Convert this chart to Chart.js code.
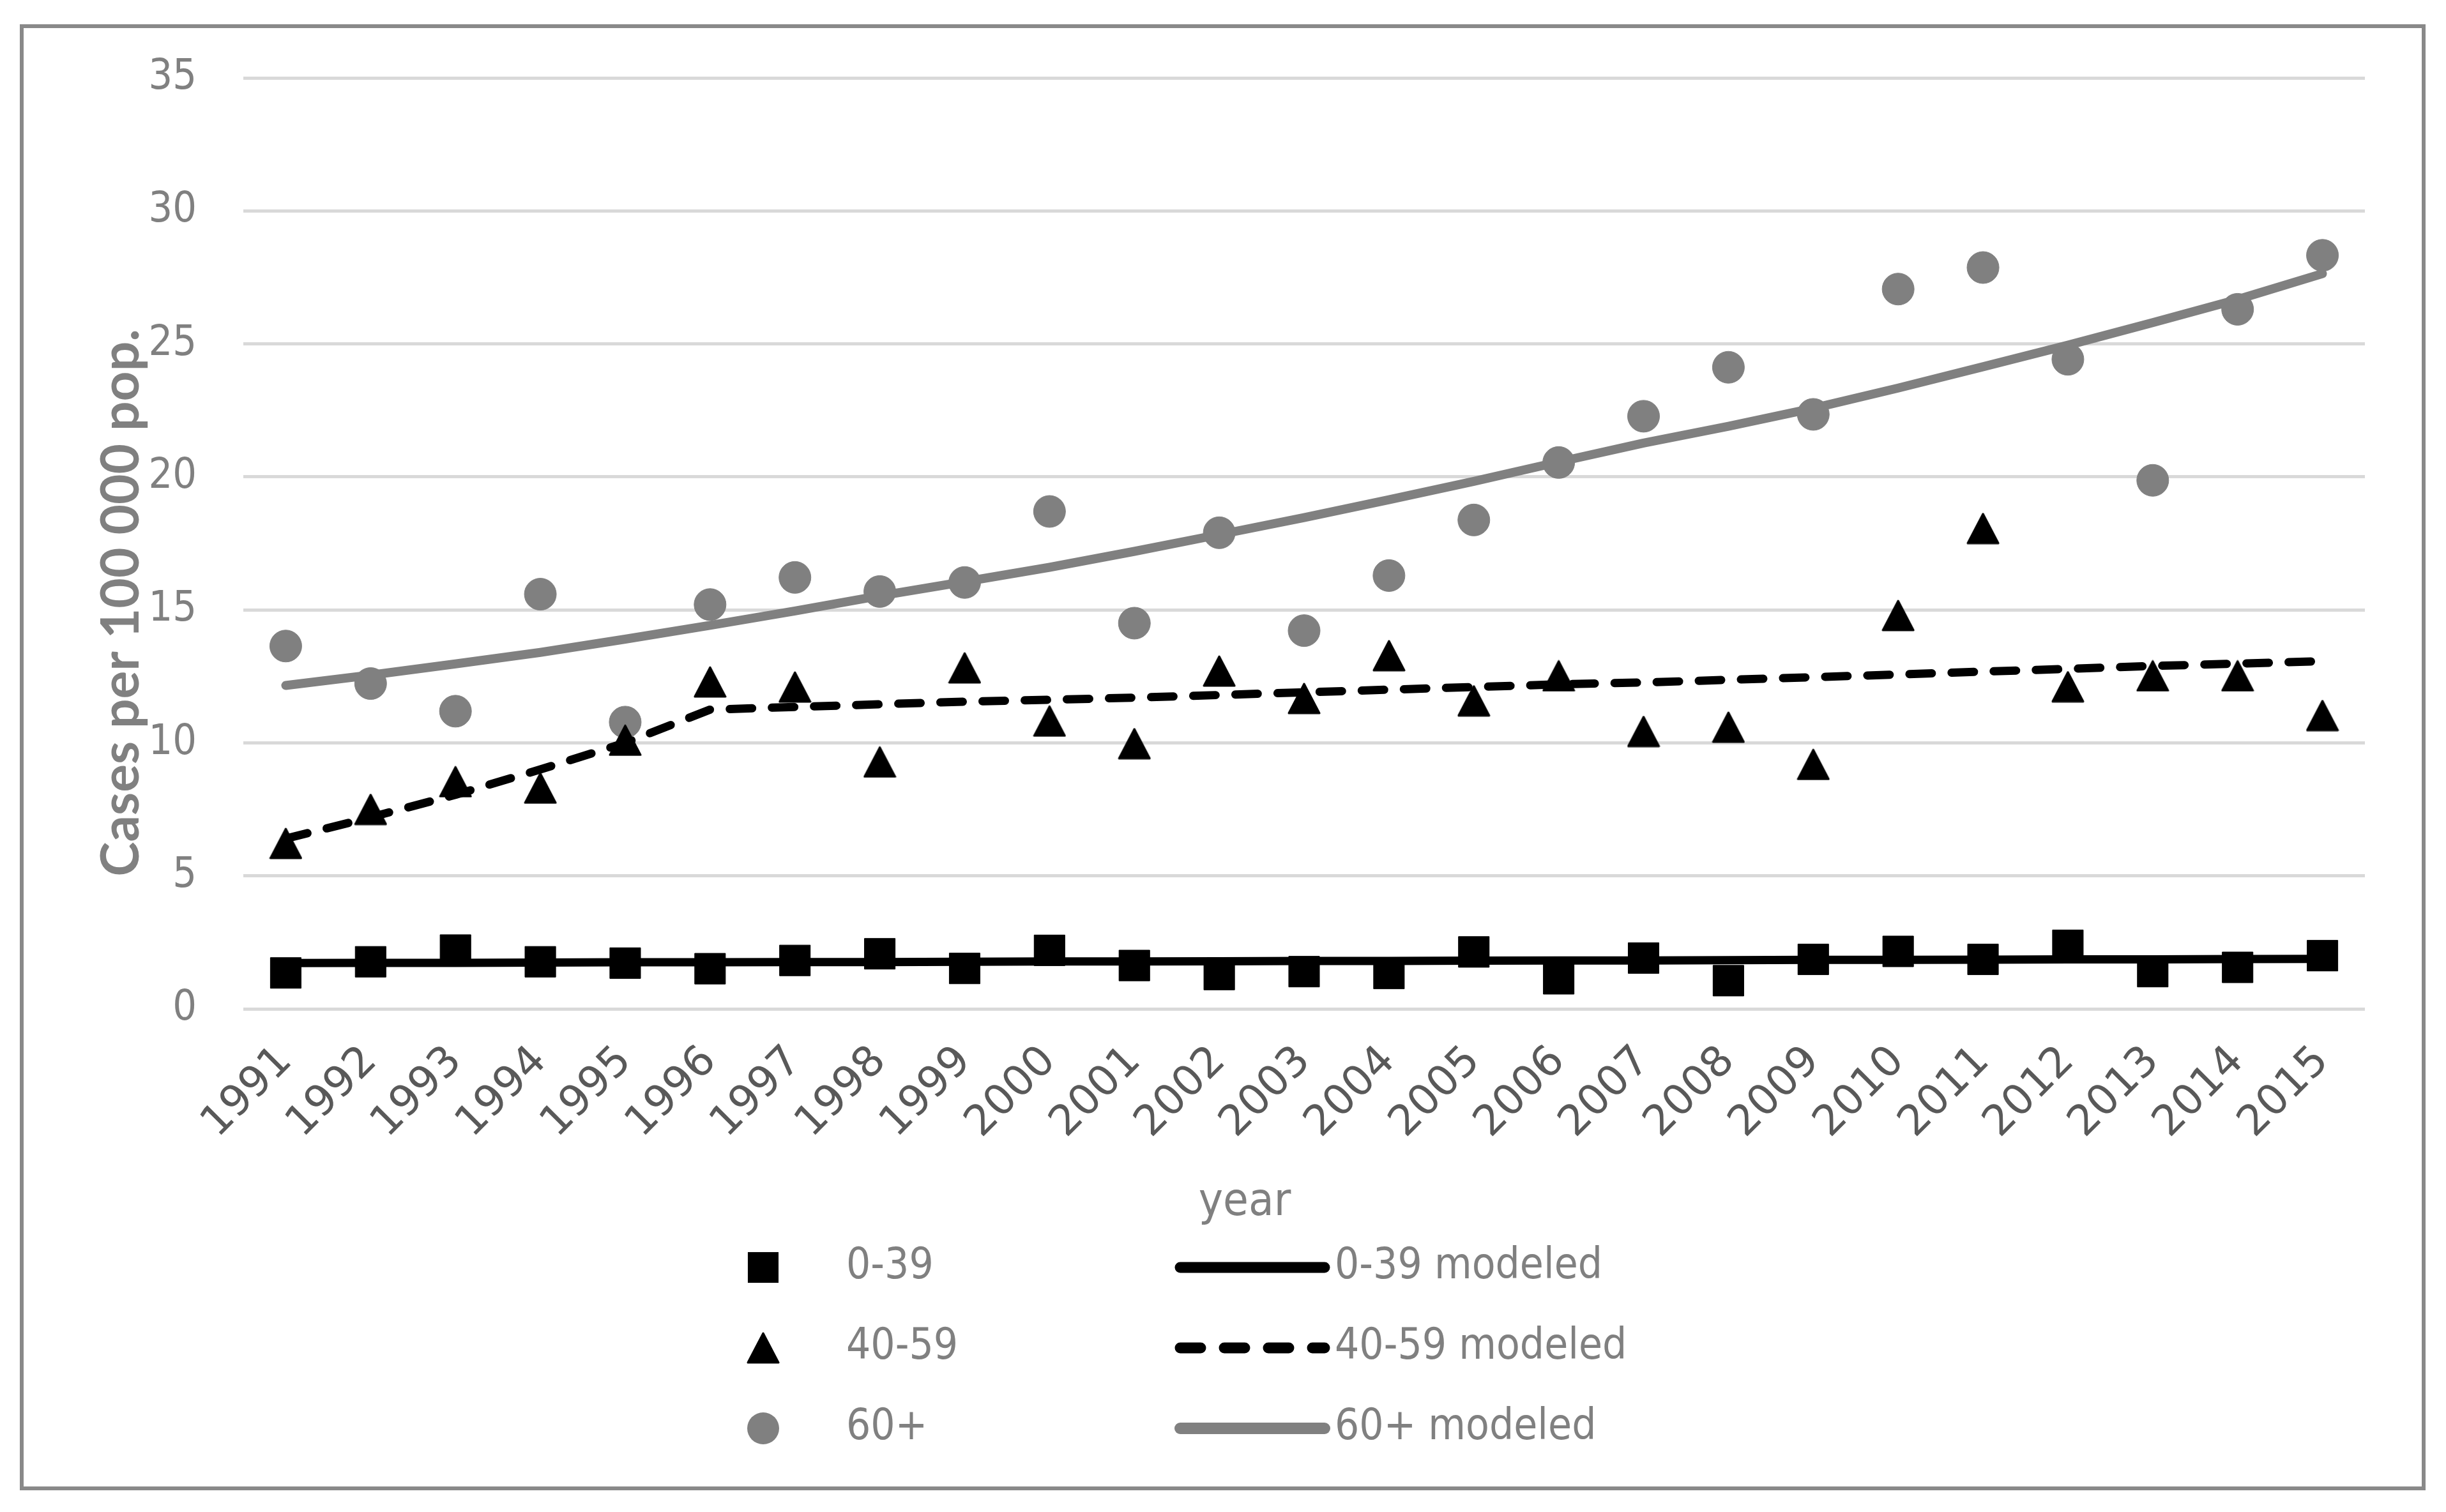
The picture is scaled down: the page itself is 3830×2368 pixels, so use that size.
<!DOCTYPE html>
<html>
<head>
<meta charset="utf-8">
<title>Cases per 100 000 pop. by age group</title>
<script src="https://cdn.jsdelivr.net/npm/chart.js@4.4.1/dist/chart.umd.min.js"></script>
<style>
    html, body { margin: 0; padding: 0; background: #ffffff; }
    #wrap { position: relative; width: 3830px; height: 2368px; overflow: hidden; }
    #wrap canvas { position: absolute; left: 0; top: 0; }
    #frame {
        position: absolute;
        left: 31px; top: 38px;
        width: 3767px; height: 2296px;
        border: 6px solid #898989;
        box-sizing: border-box;
        pointer-events: none;
    }
</style>
</head>
<body>
<div id="wrap">
    <canvas id="chart" width="3830" height="2368"></canvas>
    <div id="frame"></div>
</div>
<script>
// observed rates (cases per 100 000 pop.)
const years = ['1991', '1992', '1993', '1994', '1995', '1996', '1997', '1998', '1999', '2000',
    '2001', '2002', '2003', '2004', '2005', '2006', '2007', '2008', '2009', '2010',
    '2011', '2012', '2013', '2014', '2015'];

const cases0to39 = [1.35, 1.77, 2.21, 1.77, 1.72, 1.51, 1.82, 2.07, 1.52, 2.20,
    1.63, 1.29, 1.40, 1.33, 2.14, 1.13, 1.91, 1.06, 1.86, 2.16,
    1.86, 2.39, 1.40, 1.56, 2.00];

const cases40to59 = [6.22, 7.50, 8.54, 8.30, 10.10, 12.29, 12.10, 9.28, 12.82, 10.82,
    9.97, 12.70, 11.67, 13.28, 11.58, 12.52, 10.43, 10.59, 9.19, 14.79,
    18.06, 12.11, 12.52, 12.52, 11.03];

const cases60plus = [13.64, 12.23, 11.19, 15.59, 10.78, 15.20, 16.22, 15.69, 16.03, 18.70,
    14.50, 17.90, 14.22, 16.29, 18.38, 20.54, 22.28, 24.12, 22.35, 27.06,
    27.87, 24.42, 19.87, 26.30, 28.33];

// modeled curves
const model0to39 = [1.72, 1.73, 1.73, 1.74, 1.75, 1.75, 1.76, 1.76, 1.77, 1.78,
    1.78, 1.79, 1.80, 1.80, 1.81, 1.82, 1.82, 1.83, 1.84, 1.84,
    1.85, 1.86, 1.86, 1.87, 1.88];

const model40to59 = [6.40, 7.20, 8.05, 9.00, 10.00, 11.25, 11.35, 11.45, 11.55, 11.62,
    11.70, 11.80, 11.90, 12.00, 12.10, 12.20, 12.27, 12.37, 12.47, 12.57,
    12.68, 12.78, 12.89, 12.98, 13.07];

const model60plus = [12.16, 12.55, 12.97, 13.40, 13.90, 14.42, 14.96, 15.53, 16.06, 16.60,
    17.20, 17.83, 18.47, 19.14, 19.83, 20.56, 21.27, 21.90, 22.58, 23.34,
    24.14, 24.95, 25.80, 26.67, 27.64];

const yTicks = [0, 5, 10, 15, 20, 25, 30, 35];

const yTitle = 'Cases per 100 000 pop.';
const xTitle = 'year';

const GREY = '#808080';

// Chart.js puts the triangle centroid on the value, Excel centres the box - draw our own
function makeTriangle() {
    const c = document.createElement('canvas');
    c.width = 52;
    c.height = 50;
    const g = c.getContext('2d');
    g.fillStyle = '#000';
    g.strokeStyle = '#000';
    g.lineWidth = 3;
    g.lineJoin = 'round';
    g.beginPath();
    g.moveTo(26, 2);
    g.lineTo(50, 48);
    g.lineTo(2, 48);
    g.closePath();
    g.fill();
    g.stroke();
    return c;
}
const triangleMarker = makeTriangle();

// axis titles sit where Excel put them, not centred on the plot
const axisTitles = {
    id: 'axisTitles',
    afterDraw(chart) {
        const { ctx, chartArea } = chart;
        ctx.save();
        ctx.fillStyle = GREY;
        ctx.textAlign = 'center';
        ctx.textBaseline = 'alphabetic';

        ctx.save();
        ctx.font = 'bold 82px Lato, "Open Sans", sans-serif';
        ctx.translate(chartArea.left - 164, chartArea.top + 822);
        ctx.rotate(-Math.PI / 2);
        ctx.fillText(yTitle, 0, 0);
        ctx.restore();

        ctx.font = '72px "DejaVu Sans Condensed", "DejaVu Sans", sans-serif';
        ctx.fillText(xTitle, chartArea.left + 1568, chartArea.bottom + 323);
        ctx.restore();
    }
};

// two-column legend: markers on the left, modeled lines on the right
const gridLegend = {
    id: 'gridLegend',
    afterDraw(chart) {
        const ctx = chart.ctx;
        const sets = chart.data.datasets;
        const rowsY = [1985, 2111, 2237];
        const markerX = 1195, markerText = 1325;
        const lineFrom = 1848, lineTo = 2074, lineText = 2090;

        ctx.save();
        ctx.font = '67px "DejaVu Sans Condensed", "DejaVu Sans", sans-serif';
        ctx.textBaseline = 'middle';
        ctx.textAlign = 'left';

        rowsY.forEach((y, i) => {
            const pt = sets[i];
            const ln = sets[i + 3];

            // marker
            ctx.fillStyle = pt.pointBackgroundColor || '#000';
            if (pt.pointStyle instanceof HTMLCanvasElement) {
                ctx.drawImage(pt.pointStyle, markerX - pt.pointStyle.width / 2, y - pt.pointStyle.height / 2);
            } else if (pt.pointStyle === 'rect') {
                const s = pt.pointRadius * Math.SQRT1_2;
                ctx.fillRect(markerX - s, y - s, 2 * s, 2 * s);
            } else {
                ctx.beginPath();
                ctx.arc(markerX, y, pt.pointRadius, 0, Math.PI * 2);
                ctx.fill();
            }
            ctx.fillStyle = GREY;
            ctx.fillText(pt.label, markerText, y);

            // line sample, a little heavier than in the plot
            ctx.save();
            ctx.strokeStyle = ln.borderColor;
            ctx.lineWidth = ln.borderWidth + 4;
            ctx.lineCap = 'round';
            ctx.setLineDash(ln.borderDash ? [32, 37] : []);
            ctx.beginPath();
            ctx.moveTo(lineFrom, y);
            ctx.lineTo(lineTo, y);
            ctx.stroke();
            ctx.restore();
            ctx.fillText(ln.label, lineText, y);
        });
        ctx.restore();
    }
};

new Chart(document.getElementById('chart'), {
    type: 'line',
    data: {
        labels: years,
        datasets: [
            {
                label: '0-39',
                data: cases0to39,
                showLine: false,
                pointStyle: 'rect',
                pointRadius: 34,
                pointBackgroundColor: '#000',
                pointBorderColor: '#000',
                pointBorderWidth: 1,
                order: 0
            },
            {
                label: '40-59',
                data: cases40to59,
                showLine: false,
                pointStyle: triangleMarker,
                pointRadius: 25,
                pointBackgroundColor: '#000',
                order: 0
            },
            {
                label: '60+',
                data: cases60plus,
                showLine: false,
                pointStyle: 'circle',
                pointRadius: 25,
                pointBackgroundColor: GREY,
                pointBorderColor: GREY,
                pointBorderWidth: 1,
                order: 0
            },
            {
                label: '0-39 modeled',
                data: model0to39,
                borderColor: '#000',
                borderWidth: 13,
                borderCapStyle: 'round',
                borderJoinStyle: 'round',
                pointRadius: 0,
                order: 1
            },
            {
                label: '40-59 modeled',
                data: model40to59,
                borderColor: '#000',
                borderWidth: 13,
                borderDash: [35, 31],
                borderCapStyle: 'round',
                borderJoinStyle: 'round',
                pointRadius: 0,
                order: 1
            },
            {
                label: '60+ modeled',
                data: model60plus,
                borderColor: GREY,
                borderWidth: 14,
                borderCapStyle: 'round',
                borderJoinStyle: 'round',
                pointRadius: 0,
                order: 1
            }
        ]
    },
    options: {
        responsive: false,
        devicePixelRatio: 1,
        animation: false,
        events: [],
        layout: {
            padding: { left: 0, right: 127, top: 122, bottom: 488 }
        },
        plugins: {
            legend: { display: false },
            tooltip: { enabled: false }
        },
        scales: {
            x: {
                offset: true,
                grid: { display: false },
                border: { display: false },
                ticks: {
                    autoSkip: false,
                    minRotation: 45,
                    maxRotation: 45,
                    color: '#595959',
                    padding: 36,
                    font: { family: '"DejaVu Sans", sans-serif', size: 66 }
                },
                afterFit(scale) { scale.height = 300; }
            },
            y: {
                min: 0,
                max: 35,
                grid: { color: '#d9d9d9', lineWidth: 5, drawTicks: false },
                border: { display: false },
                ticks: {
                    color: GREY,
                    padding: 73,
                    font: { family: '"DejaVu Sans Condensed", "DejaVu Sans", sans-serif', size: 66 }
                },
                afterBuildTicks(scale) { scale.ticks = yTicks.map(v => ({ value: v })); },
                afterFit(scale) { scale.width = 381; }
            }
        }
    },
    plugins: [axisTitles, gridLegend]
});
</script>
</body>
</html>
